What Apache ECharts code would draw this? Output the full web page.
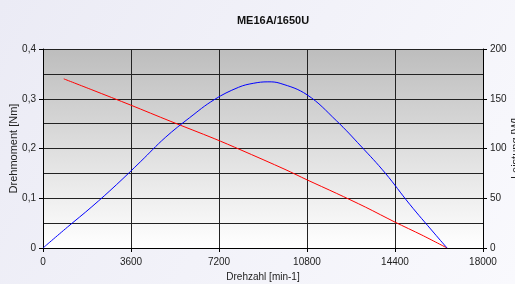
<!DOCTYPE html>
<html>
<head>
<meta charset="utf-8">
<title>ME16A/1650U</title>
<script src="https://cdn.jsdelivr.net/npm/echarts@6/dist/echarts.min.js"></script>
<style>
  html, body { margin: 0; padding: 0; }
  #chart { width: 515px; height: 284px; }
</style>
</head>
<body>
<div id="chart"></div>
<script>
// values
const torqueRpm = [850, 2000, 3600, 5200, 7000, 8100, 9900, 10800, 12000, 13200, 14400, 15500, 16530]
const torqueNm = [0.340, 0.318, 0.287, 0.255, 0.220, 0.197, 0.158, 0.137, 0.110, 0.082, 0.052, 0.026, 0]

const powerRpm = [0, 1000, 2000, 3000, 4000, 5000, 6000, 7000, 8000, 8600, 9200, 9700, 10800, 12000, 13000, 14000, 15000, 16000, 16530]
const powerW = [0, 21, 41.5, 63.5, 87, 111, 131, 149, 161.5, 165.5, 167, 165.5, 154, 128, 102.5, 75.3, 44, 15, 0]

const rpmTicks = [0, 3600, 7200, 10800, 14400, 18000]

const font = 'Liberation Sans, Arial, sans-serif'

function pairs(xs, ys) {
  return xs.map((x, i) => [x, ys[i]])
}

const chart = echarts.init(document.getElementById('chart'))

chart.setOption({
  animation: false,
  backgroundColor: new echarts.graphic.LinearGradient(0, 0, 1, 1, [
    { offset: 0, color: '#ebebf5' },
    { offset: 1, color: '#f9f9fd' }
  ]),
  title: {
    text: 'ME16A/1650U',
    left: 268,
    top: 10,
    textAlign: 'center',
    textStyle: {
      fontFamily: font,
      fontSize: 11,
      fontWeight: 'bold',
      color: '#111'
    }
  },
  grid: {
    left: 43,
    right: 32,
    top: 49,
    bottom: 36,
    containLabel: false,
    outerBoundsMode: 'none',
    show: true,
    borderWidth: 0,
    backgroundColor: new echarts.graphic.LinearGradient(0, 0, 0, 1, [
      { offset: 0, color: '#bdbdbd' },
      { offset: 1, color: '#ffffff' }
    ])
  },
  xAxis: {
    type: 'value',
    min: 0,
    max: 18000,
    interval: 3600,
    name: 'Drehzahl [min-1]',
    nameLocation: 'middle',
    nameGap: 24,
    nameMoveOverlap: false,
    nameTextStyle: { fontFamily: font, fontSize: 10, color: '#222' },
    axisLine: { onZero: false, lineStyle: { color: '#000', width: 1 } },
    axisTick: { show: true, length: 4, lineStyle: { color: '#000' } },
    axisLabel: {
      margin: 9,
      fontFamily: font,
      fontSize: 10,
      color: '#222',
      formatter: v => (rpmTicks.includes(v) ? String(v) : '')
    },
    splitLine: { show: true, lineStyle: { color: '#222', width: 1 } }
  },
  yAxis: [
    {
      type: 'value',
      min: 0,
      max: 0.4,
      interval: 0.1,
      name: 'Drehmoment [Nm]',
      nameLocation: 'middle',
      nameGap: 24,
      nameMoveOverlap: false,
      nameTextStyle: { fontFamily: font, fontSize: 11, color: '#222' },
      axisLine: { show: true, lineStyle: { color: '#000', width: 1 } },
      axisTick: { show: true, length: 4, lineStyle: { color: '#000' } },
      axisLabel: {
        margin: 7,
        fontFamily: font,
        fontSize: 10,
        color: '#222',
        formatter: v => (v === 0 ? '0' : v.toFixed(1).replace('.', ','))
      },
      splitLine: { show: true, lineStyle: { color: '#222', width: 1 } },
      minorTick: { show: false, splitNumber: 2 },
      minorSplitLine: { show: true, lineStyle: { color: '#222', width: 1 } }
    },
    {
      type: 'value',
      min: 0,
      max: 200,
      interval: 50,
      name: 'Leistung [W]',
      nameLocation: 'middle',
      nameGap: 27,
      nameMoveOverlap: false,
      nameTextStyle: { fontFamily: font, fontSize: 11, color: '#222' },
      axisLine: { show: true, lineStyle: { color: '#000', width: 1 } },
      axisTick: { show: true, length: 4, lineStyle: { color: '#000' } },
      axisLabel: {
        margin: 7,
        fontFamily: font,
        fontSize: 10,
        color: '#222'
      },
      splitLine: { show: false }
    }
  ],
  series: [
    {
      name: 'Drehmoment',
      type: 'line',
      yAxisIndex: 0,
      data: pairs(torqueRpm, torqueNm),
      smooth: 0.3,
      showSymbol: false,
      lineStyle: { color: '#ff0000', width: 1 },
      itemStyle: { color: '#ff0000' }
    },
    {
      name: 'Leistung',
      type: 'line',
      yAxisIndex: 1,
      data: pairs(powerRpm, powerW),
      smooth: 0.4,
      showSymbol: false,
      lineStyle: { color: '#0000ff', width: 1 },
      itemStyle: { color: '#0000ff' }
    }
  ]
})
</script>
</body>
</html>
